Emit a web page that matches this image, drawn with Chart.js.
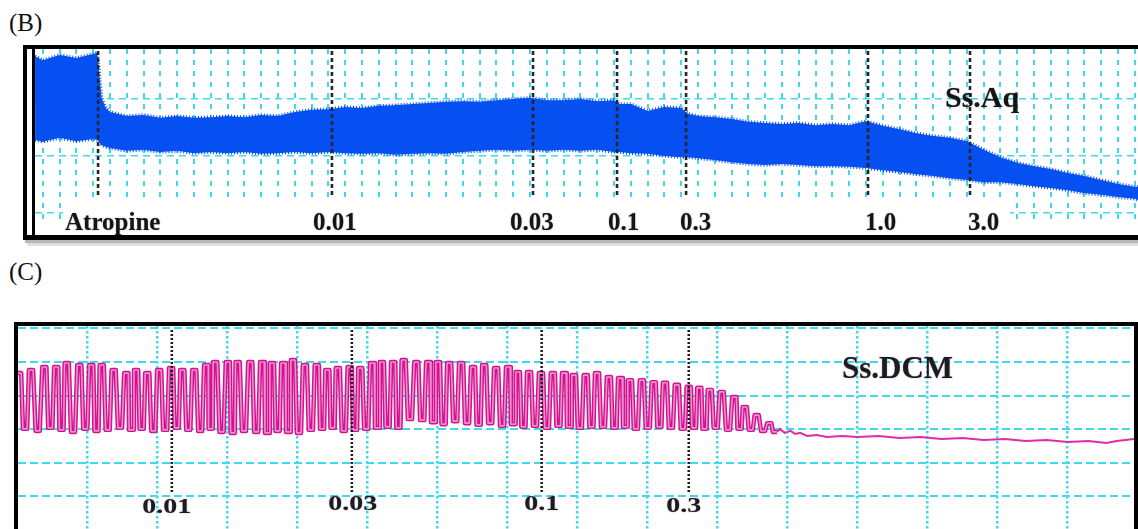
<!DOCTYPE html>
<html>
<head>
<meta charset="utf-8">
<script src="https://cdn.jsdelivr.net/npm/chart.js@4.4.1/dist/chart.umd.min.js"></script>
<style>
  body { margin: 0; background: #fff; width: 1138px; height: 529px; overflow: hidden; position: relative;
         font-family: 'Liberation Serif', 'Times New Roman', serif; }
  .tag { position: absolute; left: 9px; font-size: 25px; color: #111; line-height: 28px; }
  canvas { position: absolute; left: 0; }
  #chartB { top: 0; }
  #chartC { top: 250px; }
</style>
</head>
<body>
<div class="tag" style="top:9px">(B)</div>
<div class="tag" style="top:258px">(C)</div>
<canvas id="chartB" width="1138" height="250"></canvas>
<canvas id="chartC" width="1138" height="279"></canvas>
<script>
// ---------- panel B : Ss.Aq (time in min, tension in g) ----------
const bTime = [0.54, 1, 2, 3, 4, 4.25, 4.5, 4.75, 5,
  6, 7, 8, 9, 10, 11, 12, 13, 14, 15,
  16, 17, 18, 19, 20, 21, 22, 23, 24, 25,
  26, 27, 28, 29, 30, 31, 32, 33, 34, 35,
  35.3, 36, 37, 38, 39, 39.4,
  40, 41, 42, 43, 44, 45, 46, 47, 48, 49,
  50, 51, 52, 53, 54, 55, 56, 57, 58, 59,
  60, 61, 62, 63, 64, 65, 66, 66.19];
const bUpper = [2.75, 2.68, 2.77, 2.72, 2.79, 2.81, 2.02, 1.84, 1.77,
  1.70, 1.72, 1.67, 1.70, 1.67, 1.68, 1.70, 1.68, 1.72, 1.70,
  1.77, 1.81, 1.82, 1.86, 1.84, 1.88, 1.89, 1.91, 1.93, 1.95,
  1.96, 1.95, 1.98, 2.00, 2.02, 1.98, 1.98, 2.00, 1.96, 1.98,
  1.91, 1.91, 1.79, 1.86, 1.84, 1.74,
  1.70, 1.68, 1.65, 1.60, 1.58, 1.56, 1.58, 1.54, 1.56, 1.54,
  1.61, 1.53, 1.47, 1.40, 1.35, 1.32, 1.26, 1.11, 0.98, 0.88,
  0.82, 0.77, 0.70, 0.65, 0.58, 0.51, 0.46, 0.46];
const bLower = [1.28, 1.25, 1.32, 1.26, 1.30, 1.28, 1.19, 1.16, 1.14,
  1.09, 1.11, 1.07, 1.09, 1.05, 1.07, 1.05, 1.07, 1.04, 1.05,
  1.07, 1.05, 1.07, 1.05, 1.04, 1.05, 1.02, 1.04, 1.05, 1.04,
  1.07, 1.09, 1.11, 1.09, 1.11, 1.09, 1.11, 1.09, 1.11, 1.07,
  1.07, 1.05, 1.04, 1.00, 0.98, 0.98,
  0.96, 0.93, 0.89, 0.86, 0.84, 0.86, 0.84, 0.82, 0.82, 0.81,
  0.79, 0.75, 0.72, 0.68, 0.65, 0.61, 0.58, 0.54, 0.54, 0.51,
  0.47, 0.44, 0.40, 0.35, 0.32, 0.28, 0.25, 0.23];
const bDoses = ['Atropine', '0.01', '0.03', '0.1', '0.3', '1.0', '3.0'];
const bDoseTime = [4.29, 18.21, 30.18, 35.18, 39.29, 50.12, 56.19];

// ---------- panel C : Ss.DCM ----------
const cPeakTime = [0.03, 0.20, 0.39, 0.56, 0.71, 0.89, 1.06, 1.21, 1.38, 1.56, 1.70, 1.86, 2.03, 2.20, 2.36, 2.53, 2.70,
  2.83, 3.01, 3.15, 3.33, 3.50, 3.64, 3.80, 3.94, 4.11, 4.28, 4.43, 4.58, 4.75, 4.90, 5.07, 5.21, 5.37,
  5.52, 5.70, 5.87, 6.01, 6.17, 6.34, 6.51, 6.67, 6.84, 7.01, 7.15, 7.31, 7.48, 7.65, 7.81, 7.95, 8.12,
  8.28, 8.45, 8.61, 8.75, 8.92, 9.09, 9.25, 9.42, 9.59, 9.74, 9.89, 10.06, 10.24, 10.39, 10.56, 10.74];
const cPeak = [4.67, 4.76, 4.85, 4.85, 4.97, 4.91, 4.91, 4.91, 4.76, 4.67, 4.76, 4.67, 4.76, 4.82, 4.76, 4.76, 4.91,
  5.00, 5.00, 5.00, 5.00, 5.00, 4.97, 4.97, 5.06, 4.91, 4.91, 4.76, 4.82, 4.85, 4.82, 4.97, 5.00, 5.00,
  5.06, 5.00, 5.00, 5.00, 4.97, 4.97, 4.85, 4.91, 4.82, 4.85, 4.70, 4.70, 4.67, 4.67, 4.67, 4.61, 4.61,
  4.67, 4.55, 4.52, 4.46, 4.46, 4.40, 4.38, 4.32, 4.26, 4.23, 4.17, 4.11, 3.96, 3.66, 3.42, 3.18];
const cTrough = [3.01, 2.95, 3.04, 2.98, 2.92, 3.01, 2.95, 2.98, 3.04, 2.98, 3.01, 2.95, 2.98, 3.04, 2.98, 2.95, 3.01,
  2.92, 2.89, 2.95, 2.92, 2.89, 2.95, 2.92, 2.89, 2.98, 3.01, 3.04, 2.95, 2.98, 3.01, 3.04, 3.07, 3.04,
  3.30, 3.27, 3.21, 3.15, 3.24, 3.18, 3.13, 3.18, 3.10, 3.15, 3.07, 3.10, 3.04, 3.10, 3.07, 3.04, 3.07,
  3.07, 3.04, 3.07, 3.01, 3.04, 3.07, 3.04, 3.01, 3.04, 3.01, 3.04, 2.98, 3.01, 2.98, 2.95, 2.92];
const cTailTime = [10.89, 10.96, 11.04, 11.11, 11.18, 11.28, 11.42, 11.56, 11.78, 12.0, 12.3, 12.6,
  12.9, 13.2, 13.5, 13.8, 14.1, 14.4, 14.7, 15.0, 15.3, 15.55, 15.7, 15.95];
const cTail = [3.01, 2.89, 2.95, 2.86, 2.89, 2.80, 2.83, 2.77, 2.80, 2.77, 2.80, 2.74,
  2.77, 2.71, 2.74, 2.68, 2.71, 2.65, 2.68, 2.62, 2.65, 2.59, 2.65, 2.71];
const cDoses = ['0.01', '0.03', '0.1', '0.3'];
const cDoseTime = [2.21, 4.78, 7.49, 9.59];

const CYAN = '#3fd9ec';
const BLUE = '#0650f2';
const SERIF = '"Liberation Serif", "Times New Roman", serif';

function zip(xs, ys) { return xs.map((x, i) => ({ x: x, y: ys[i] })); }
function markerLines(times, top, bottom) {
  const pts = [];
  times.forEach(t => pts.push({ x: t, y: top }, { x: t, y: bottom }, { x: t, y: null }));
  return pts;
}
function fixedTicks(from, to) {
  return scale => {
    scale.ticks = [];
    for (let v = from; v <= to; v++) scale.ticks.push({ value: v });
  };
}

const decorPlugin = {
  id: 'decor',
  beforeDatasetsDraw(chart, args, opts) {
    const ctx = chart.ctx;
    ctx.save();
    ctx.fillStyle = '#fff';
    (opts.blank || []).forEach(r => ctx.fillRect(r[0], r[1], r[2], r[3]));
    ctx.restore();
  },
  afterDraw(chart, args, opts) {
    const ctx = chart.ctx;
    const xs = chart.scales.x;
    ctx.save();
    (opts.frame || []).forEach(r => {
      ctx.fillStyle = r[4];
      ctx.fillRect(r[0], r[1], r[2], r[3]);
    });
    ctx.fillStyle = opts.textColor;
    ctx.shadowColor = 'rgba(40,30,20,0.45)';
    ctx.shadowBlur = 1.5;
    ctx.font = opts.doseFont;
    opts.doses.forEach((txt, i) => {
      const px = xs.getPixelForValue(opts.doseTime[i]) + opts.doseShift[i];
      ctx.save();
      ctx.translate(px, opts.doseBase[i]);
      ctx.scale(opts.stretch, 1);
      ctx.textAlign = opts.align;
      ctx.fillText(txt, 0, 0);
      ctx.restore();
    });
    ctx.font = opts.titleFont;
    ctx.textAlign = 'left';
    ctx.fillText(opts.title, opts.titleX, opts.titleY);
    ctx.restore();
  }
};

Chart.register(decorPlugin);

new Chart(document.getElementById('chartB'), {
  type: 'line',
  data: {
    datasets: [
      { data: zip(bTime, bUpper), borderColor: BLUE, backgroundColor: BLUE, borderWidth: 3.5,
        borderDash: [1, 2], pointRadius: 0, fill: '+1', order: 2 },
      { data: zip(bTime, bLower), borderColor: BLUE, borderWidth: 3.5, borderDash: [1, 2],
        pointRadius: 0, fill: false, order: 3 },
      { data: markerLines(bDoseTime, 2.84, 0.30), borderColor: '#262626', borderWidth: 2.6, borderDash: [4, 3],
        pointRadius: 0, fill: false, spanGaps: false, order: 0 }
    ]
  },
  options: {
    responsive: false,
    animation: false,
    events: [],
    layout: { padding: { left: 35, right: 0, top: 49, bottom: 15 } },
    scales: {
      x: {
        type: 'linear', min: 0.536, max: 66.19,
        afterBuildTicks: fixedTicks(1, 66),
        ticks: { display: false },
        grid: { color: CYAN, lineWidth: 2, drawTicks: false },
        border: { display: false, dash: [5, 6] }
      },
      y: {
        type: 'linear', min: -0.386, max: 2.877,
        afterBuildTicks: fixedTicks(0, 2),
        ticks: { display: false },
        grid: { color: CYAN, lineWidth: 1.5, drawTicks: false },
        border: { display: false, dash: [7, 5] }
      }
    },
    plugins: {
      legend: { display: false },
      tooltip: { enabled: false },
      decor: {
        blank: [[63, 199, 947, 36], [35, 219, 1103, 16]],
        frame: [[23, 45, 1115, 4, '#000'], [23, 45, 4, 195, '#000'], [23, 235, 1115, 5, '#000'],
                [32, 49, 3, 186, '#000'], [25, 240, 1113, 3, 'rgba(0,0,0,0.28)'], [27, 243, 1111, 3, 'rgba(0,0,0,0.12)']],
        textColor: '#151515',
        doses: bDoses, doseTime: bDoseTime,
        doseShift: [-33, -19, -23, -9, -6, -3, -2],
        doseBase: [230, 230, 230, 230, 230, 230, 230],
        doseFont: 'bold 25px ' + SERIF, stretch: 1, align: 'left',
        title: 'Ss.Aq', titleFont: 'bold 30px ' + SERIF, titleX: 945, titleY: 107
      }
    }
  }
});

// square-ish beats: flat top around each peak, flat bottom half way to the next beat
const plateau = 0.03;
const beatPts = [];
cPeakTime.forEach((t, i) => {
  const next = i + 1 < cPeakTime.length ? cPeakTime[i + 1] : t + 0.16;
  const mid = (t + next) / 2;
  beatPts.push({ x: t - plateau, y: cPeak[i] }, { x: t + plateau, y: cPeak[i] },
               { x: mid - plateau, y: cTrough[i] }, { x: mid + plateau, y: cTrough[i] });
});
const tailPts = [beatPts[beatPts.length - 1]].concat(zip(cTailTime, cTail));

new Chart(document.getElementById('chartC'), {
  type: 'line',
  data: {
    datasets: [
      { data: beatPts, borderColor: '#d3128b', borderWidth: 4.5, pointRadius: 0, fill: false, order: 3,
        borderJoinStyle: 'round' },
      { data: beatPts, borderColor: '#ee8fd3', borderWidth: 1.6, pointRadius: 0, fill: false, order: 2,
        borderJoinStyle: 'round' },
      { data: tailPts, borderColor: '#dc2fa3', borderWidth: 2, pointRadius: 0, fill: false, order: 1 },
      { data: markerLines(cDoseTime, 5.95, 1.10), borderColor: '#1f1f1f', borderWidth: 2.6, borderDash: [2, 2],
        pointRadius: 0, fill: false, spanGaps: false, order: 0 }
    ]
  },
  options: {
    responsive: false,
    animation: false,
    events: [],
    layout: { padding: { left: 18, right: 4, top: 76, bottom: 0 } },
    scales: {
      x: {
        type: 'linear', min: 0.0143, max: 15.946,
        afterBuildTicks: fixedTicks(1, 15),
        ticks: { display: false },
        grid: { color: CYAN, lineWidth: 2.5, drawTicks: false },
        border: { display: false, dash: [2.5, 2.5] }
      },
      y: {
        type: 'linear', min: 0.03, max: 6.071,
        afterBuildTicks: fixedTicks(1, 6),
        ticks: { display: false },
        grid: { color: CYAN, lineWidth: 2, drawTicks: false },
        border: { display: false, dash: [8, 4] }
      }
    },
    plugins: {
      legend: { display: false },
      tooltip: { enabled: false },
      decor: {
        frame: [[14, 72, 1124, 4, '#000'], [14, 72, 4, 207, '#000'], [1134, 72, 4, 207, '#000']],
        textColor: '#1d1a24',
        doses: cDoses, doseTime: cDoseTime,
        doseShift: [-5, 1, 0, -5],
        doseBase: [263, 260, 260, 262],
        doseFont: 'bold 20px ' + SERIF, stretch: 1.4, align: 'center',
        title: 'Ss.DCM', titleFont: 'bold 31px ' + SERIF, titleX: 842, titleY: 128
      }
    }
  }
});
</script>
</body>
</html>
